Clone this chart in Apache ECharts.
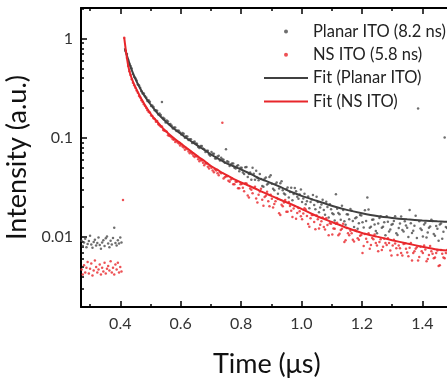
<!DOCTYPE html>
<html><head><meta charset="utf-8">
<script src="https://cdn.jsdelivr.net/npm/echarts@6/dist/echarts.min.js"></script>
<style>html,body{margin:0;padding:0;background:#fff}#c{width:447px;height:379px}</style>
</head><body><div id="c"></div>
<script>
// ---- data ----
const baseTime=[0.272,0.276,0.280,0.284,0.288,0.292,0.296,0.300,0.304,0.308,0.312,0.316,0.320,0.324,0.328,0.332,0.336,0.340,0.344,0.348,0.352,0.356,0.360,0.364,0.368,0.372,0.376,0.380,0.384,0.388,0.392,0.396,0.400,0.404];
const planarBase=[0.0092,0.0081,0.0088,0.0096,0.0079,0.0085,0.0091,0.0103,0.0084,0.0078,0.0089,0.0094,0.0082,0.0087,0.0099,0.0083,0.0076,0.0088,0.0093,0.0081,0.0097,0.0101,0.0086,0.0079,0.0092,0.0084,0.0098,0.0124,0.0087,0.0082,0.0093,0.0086,0.0099,0.0088];
const nsBase=[0.0047,0.0042,0.0052,0.0044,0.0049,0.0056,0.0043,0.0048,0.0054,0.0041,0.0046,0.0058,0.0050,0.0044,0.0047,0.0053,0.0042,0.0049,0.0045,0.0055,0.0043,0.0048,0.0051,0.0046,0.0057,0.0044,0.0049,0.0042,0.0053,0.0047,0.0055,0.0044,0.0050,0.0045];
const nsEarlyT=[0.409,0.413];
const nsEarlyI=[0.0236,1.02];
const decayTime=[0.418,0.426,0.434,0.442,0.450,0.458,0.466,0.474,0.482,0.490,0.498,0.506,0.514,0.522,0.530,0.538,0.546,0.554,0.562,0.570,0.578,0.586,0.594,0.602,0.610,0.618,0.626,0.634,0.642,0.650,0.658,0.666,0.674,0.682,0.690,0.698,0.706,0.714,0.722,0.730,0.738,0.746,0.754,0.762,0.770,0.778,0.786,0.794,0.802,0.810,0.818,0.826,0.834,0.842,0.850,0.858,0.866,0.874,0.882,0.890,0.898,0.906,0.914,0.922,0.930,0.938,0.946,0.954,0.962,0.970,0.978,0.986,0.994,1.002,1.010,1.018,1.026,1.034,1.042,1.050,1.058,1.066,1.074,1.082,1.090,1.098,1.106,1.114,1.122,1.130,1.138,1.146,1.154,1.162,1.170,1.178,1.186,1.194,1.202,1.210,1.218,1.226,1.234,1.242,1.250,1.258,1.266,1.274,1.282,1.290,1.298,1.306,1.314,1.322,1.330,1.338,1.346,1.354,1.362,1.370,1.378,1.386,1.394,1.402,1.410,1.418,1.426,1.434,1.442,1.450,1.458,1.466,1.474,1.482,1.490];
const planarDecay=[0.75,0.61,0.53,0.44,0.40,0.345,0.32,0.28,0.265,0.235,0.232,0.212,0.19,0.188,0.176,0.23,0.156,0.15,0.137,0.133,0.127,0.117,0.118,0.108,0.11,0.104,0.095,0.097,0.091,0.088,0.081,0.083,0.078,0.072,0.074,0.066,0.069,0.062,0.065,0.059,0.061,0.056,0.058,0.052,0.055,0.05,0.052,0.046,
0.050,0.0432,0.0507,0.0432,0.0378,0.0434,0.0466,0.0373,0.0385,0.0321,0.0398,0.0346,0.0419,0.0307,0.0343,0.0273,0.0349,0.0297,0.0268,0.0316,0.0284,0.0235,0.0313,0.0255,0.0269,0.0225,0.0274,0.0229,0.0195,0.0239,0.0211,0.0255,0.0178,0.0213,0.0187,0.0227,0.0157,0.0191,0.017,0.027,0.0175,0.0149,0.0187,0.0133,0.0169,0.0192,0.0145,0.0155,0.0121,0.0167,0.0141,0.0186,0.025,0.0124,0.0149,0.0134,0.0109,0.0156,0.0124,0.0141,0.0162,0.0114,0.0133,0.0145,0.0109,0.0123,0.0161,0.0114,0.0131,0.01,0.0138,0.0116,0.0164,0.198,0.0122,0.0101,0.0139,0.0111,0.0128,0.0145,0.0103,0.0121,0.0134,0.0096,0.101,0.0123,0.0113];
const nsDecay=[0.76,0.53,0.43,0.36,0.32,0.285,0.255,0.23,0.21,0.19,0.18,0.166,0.155,0.148,0.134,0.13,0.118,0.115,0.105,0.101,0.096,0.093,0.088,0.086,0.08,0.079,0.073,0.072,0.066,0.066,0.061,0.06,0.056,0.055,0.051,0.052,0.047,0.048,0.044,0.045,0.142,0.04,0.041,0.036,0.039,0.034,0.036,0.031,
0.0342,0.029,0.0347,0.025,0.0299,0.0313,0.0244,0.0267,0.0307,0.0207,0.0261,0.023,0.0267,0.0199,0.023,0.0242,0.0167,0.0204,0.0236,0.018,0.0205,0.0159,0.0206,0.0175,0.0182,0.0151,0.0195,0.0163,0.0127,0.0167,0.0142,0.0165,0.0122,0.0144,0.0126,0.0155,0.0104,0.0136,0.0122,0.0136,0.0104,0.0118,0.0136,0.0093,0.0109,0.0116,0.0094,0.0117,0.0097,0.0103,0.0069,0.0107,0.0089,0.0076,0.0098,0.0106,0.0082,0.0089,0.0074,0.0096,0.0083,0.0087,0.0065,0.0094,0.0077,0.0082,0.0069,0.0085,0.0076,0.0064,0.0087,0.0069,0.0076,0.0058,0.008,0.0069,0.0075,0.006,0.0081,0.0068,0.0062,0.0073,0.0052,0.0068,0.0061,0.0074,0.0063];
const decayTime2=[0.422,0.430,0.438,0.446,0.454,0.462,0.470,0.478,0.486,0.494,0.502,0.510,0.518,0.526,0.534,0.542,0.550,0.558,0.566,0.574,0.582,0.590,0.598,0.606,0.614,0.622,0.630,0.638,0.646,0.654,0.662,0.670,0.678,0.686,0.694,0.702,0.710,0.718,0.726,0.734,0.742,0.750,0.758,0.766,0.774,0.782,0.790,0.798,0.806,0.814,0.822,0.830,0.838,0.846,0.854,0.862,0.870,0.878,0.886,0.894,0.902,0.910,0.918,0.926,0.934,0.942,0.950,0.958,0.966,0.974,0.982,0.990,0.998,1.006,1.014,1.022,1.030,1.038,1.046,1.054,1.062,1.070,1.078,1.086,1.094,1.102,1.110,1.118,1.126,1.134,1.142,1.150,1.158,1.166,1.174,1.182,1.190,1.198,1.206,1.214,1.222,1.230,1.238,1.246,1.254,1.262,1.270,1.278,1.286,1.294,1.302,1.310,1.318,1.326,1.334,1.342,1.350,1.358,1.366,1.374,1.382,1.390,1.398,1.406,1.414,1.422,1.430,1.438,1.446,1.454,1.462,1.470,1.478,1.486];
const planarDecay2=[0.70,0.56,0.50,0.41,0.38,0.34,0.295,0.28,0.255,0.24,0.21,0.205,0.19,0.172,0.17,0.16,0.143,0.146,0.138,0.124,0.127,0.119,0.113,0.112,0.1,0.103,0.097,0.089,0.092,0.087,0.079,0.083,0.077,0.074,0.068,0.072,0.069,0.062,0.066,0.063,0.06,0.077,0.057,0.054,0.055,0.049,0.053,0.05,
0.0447,0.0505,0.0402,0.0448,0.0499,0.0378,0.0395,0.0433,0.0328,0.0387,0.0339,0.0402,0.0345,0.0297,0.0355,0.0308,0.0366,0.0275,0.0304,0.025,0.0314,0.0272,0.029,0.0243,0.0301,0.0244,0.0214,0.0257,0.0225,0.0265,0.0191,0.0225,0.0199,0.0238,0.0168,0.0201,0.0214,0.0174,0.0147,0.0193,0.017,0.0207,0.0144,0.017,0.0151,0.0184,0.0126,0.0158,0.0138,0.0165,0.0125,0.0145,0.0189,0.0127,0.015,0.0115,0.0137,0.0162,0.0127,0.0104,0.0143,0.0119,0.0135,0.0162,0.0105,0.0137,0.0118,0.0144,0.0124,0.0187,0.011,0.013,0.0098,0.0144,0.0118,0.0134,0.0099,0.0124,0.0149,0.0107,0.0129,0.0092,0.0137,0.0113,0.0126,0.01];
const nsDecay2=[0.64,0.47,0.39,0.34,0.30,0.265,0.24,0.218,0.2,0.182,0.168,0.158,0.145,0.137,0.13,0.12,0.117,0.106,0.104,0.097,0.091,0.09,0.084,0.082,0.076,0.077,0.07,0.069,0.064,0.065,0.058,0.059,0.053,0.055,0.049,0.05,0.045,0.047,0.042,0.044,0.039,0.041,0.037,0.038,0.034,0.036,0.031,0.034,
0.0314,0.0348,0.0263,0.0309,0.0276,0.0321,0.0223,0.0288,0.0238,0.0254,0.0286,0.0204,0.0243,0.0215,0.0247,0.0174,0.0212,0.0223,0.018,0.0226,0.0184,0.0194,0.0153,0.0196,0.0162,0.0173,0.019,0.0135,0.0155,0.0167,0.012,0.0151,0.0133,0.0157,0.0119,0.0132,0.0138,0.0106,0.0121,0.0139,0.0108,0.0121,0.0089,0.0123,0.0104,0.0109,0.009,0.0115,0.0094,0.0105,0.0081,0.0096,0.0109,0.0083,0.0095,0.0087,0.0072,0.0095,0.008,0.0087,0.0097,0.0073,0.0082,0.0086,0.0066,0.0077,0.0065,0.0086,0.007,0.0078,0.0058,0.0072,0.0079,0.0063,0.0072,0.0082,0.0057,0.0066,0.0072,0.0061,0.0069,0.0051,0.0074,0.0062,0.0069,0.0056];
const planarFitT=[0.415,0.418,0.426,0.434,0.442,0.45,0.458,0.466,0.474,0.482,0.49,0.498,0.506,0.52,0.54,0.56,0.58,0.60,0.62,0.64,0.66,0.68,0.70,0.72,0.74,0.76,0.78,0.80,0.82,0.84,0.86,0.88,0.90,0.92,0.94,0.96,0.98,1.00,1.05,1.10,1.15,1.20,1.25,1.30,1.35,1.40,1.45,1.50];
const planarFit=[0.80,0.74,0.62,0.52,0.45,0.395,0.35,0.315,0.285,0.26,0.24,0.222,0.206,0.182,0.157,0.138,0.122,0.11,0.099,0.09,0.082,0.075,0.068,0.063,0.058,0.054,0.051,0.048,0.045,0.042,0.039,0.037,0.035,0.033,0.031,0.029,0.0275,0.026,0.0232,0.0207,0.0188,0.0174,0.0163,0.0156,0.0151,0.0147,0.0144,0.0142];
const nsFitT=[0.413,0.418,0.426,0.434,0.442,0.45,0.458,0.466,0.474,0.482,0.49,0.498,0.506,0.52,0.54,0.56,0.58,0.60,0.62,0.64,0.66,0.68,0.70,0.72,0.74,0.76,0.78,0.80,0.82,0.84,0.86,0.88,0.90,0.92,0.94,0.96,0.98,1.00,1.05,1.10,1.15,1.20,1.25,1.30,1.35,1.40,1.45,1.50];
const nsFit=[1.03,0.78,0.54,0.43,0.37,0.325,0.29,0.26,0.235,0.213,0.195,0.18,0.166,0.148,0.126,0.11,0.098,0.088,0.079,0.071,0.064,0.058,0.052,0.048,0.044,0.041,0.038,0.0355,0.0335,0.0315,0.0295,0.0277,0.026,0.0245,0.0231,0.0218,0.0205,0.0192,0.0163,0.0142,0.0124,0.011,0.0101,0.0093,0.0086,0.008,0.0075,0.0072];
const xLabels=[0.4,0.6,0.8,1.0,1.2,1.4];
const xMinorTicks=[0.3,0.5,0.7,0.9,1.1,1.3,1.5];
const yLabels=[0.01,0.1,1];
const yMinorTicks=[0.002,0.003,0.004,0.005,0.006,0.007,0.008,0.009,0.02,0.03,0.04,0.05,0.06,0.07,0.08,0.09,0.2,0.3,0.4,0.5,0.6,0.7,0.8,0.9,2];
const seriesNames=['Planar ITO (8.2 ns)','NS ITO (5.8 ns)','Fit (Planar ITO)','Fit (NS ITO)'];

function pairs(t,v){const out=[];for(let i=0;i<t.length;i++){if(v[i]!=null)out.push([t[i],v[i]]);}return out;}
const FONT='Lato';
const GRAY='#4a4a4a', RED='#e8262b';
const X_MIN=0.27, X_MAX=1.5, Y_MIN=0.00197, Y_MAX=2.04;

function xAx(pos, values, len, showLine, labels){
  return {type:'value',min:X_MIN,max:X_MAX,position:pos,
    axisLine:{show:showLine,onZero:false,lineStyle:{color:'#000',width:2}},
    axisTick:{show:true,inside:true,length:len,customValues:values,lineStyle:{color:'#000',width:1.5}},
    axisLabel:labels?{show:true,customValues:xLabels,formatter:v=>Number(v).toFixed(1),fontSize:16,fontFamily:FONT,color:'#333',margin:9}:{show:false},
    splitLine:{show:false}};
}
function yAx(values,len,showLine,labels){
  return {type:'log',logBase:10,min:Y_MIN,max:Y_MAX,position:'left',
    axisLine:{show:showLine,onZero:false,lineStyle:{color:'#000',width:2}},
    axisTick:{show:true,inside:true,length:len,customValues:values,lineStyle:{color:'#000',width:1.5}},
    axisLabel:labels?{show:true,customValues:yLabels,formatter:v=>String(+Number(v).toPrecision(2)),fontSize:16,fontFamily:FONT,color:'#333',margin:8}:{show:false},
    splitLine:{show:false},minorTick:{show:false}};
}
const xMain=xAx('bottom',xLabels,6,true,true);
xMain.name='Time (μs)';xMain.nameLocation='middle';xMain.nameGap=44;
xMain.nameTextStyle={fontSize:27,fontFamily:FONT,color:'#111'};
const yMain=yAx(yLabels,6,true,true);
yMain.name='Intensity (a.u.)';yMain.nameLocation='middle';yMain.nameGap=42;yMain.nameRotate=90;
yMain.nameTextStyle={fontSize:27,fontFamily:FONT,color:'#111'};

const chart=echarts.init(document.getElementById('c'),null,{renderer:'canvas'});
chart.setOption({
  animation:false,
  backgroundColor:'#fff',
  grid:{left:81,top:8,bottom:72,right:-5.5,containLabel:false,outerBoundsMode:'none'},
  xAxis:[xMain,xAx('bottom',xMinorTicks,3,false,false),xAx('top',xLabels,6,true,false),xAx('top',xMinorTicks,3,false,false)],
  yAxis:[yMain,yAx(yMinorTicks,3,false,false)],
  legend:{orient:'vertical',left:263,top:22,padding:0,itemWidth:44,itemHeight:4,itemGap:4.3,
    textStyle:{fontSize:16.5,fontFamily:FONT,color:'#222',lineHeight:19},
    data:[{name:seriesNames[0],icon:'circle'},{name:seriesNames[1],icon:'circle'},
          {name:seriesNames[2],itemStyle:{opacity:0}},{name:seriesNames[3],itemStyle:{opacity:0}}]},
  series:[
    {name:seriesNames[0],type:'scatter',xAxisIndex:0,yAxisIndex:0,symbol:'circle',symbolSize:2.5,itemStyle:{color:GRAY},
     data:pairs(baseTime,planarBase).concat(pairs(decayTime,planarDecay),pairs(decayTime2,planarDecay2))},
    {name:seriesNames[1],type:'scatter',xAxisIndex:0,yAxisIndex:0,symbol:'circle',symbolSize:2.5,itemStyle:{color:RED},
     data:pairs(baseTime,nsBase).concat(pairs(nsEarlyT,nsEarlyI),pairs(decayTime,nsDecay),pairs(decayTime2,nsDecay2))},
    {name:seriesNames[2],type:'line',xAxisIndex:0,yAxisIndex:0,showSymbol:false,symbol:'none',smooth:0.2,
     lineStyle:{color:'#404040',width:2},itemStyle:{color:'#404040'},data:pairs(planarFitT,planarFit)},
    {name:seriesNames[3],type:'line',xAxisIndex:0,yAxisIndex:0,showSymbol:false,symbol:'none',smooth:0.2,
     lineStyle:{color:RED,width:2},itemStyle:{color:RED},data:pairs(nsFitT,nsFit)}
  ]
});
</script></body></html>
